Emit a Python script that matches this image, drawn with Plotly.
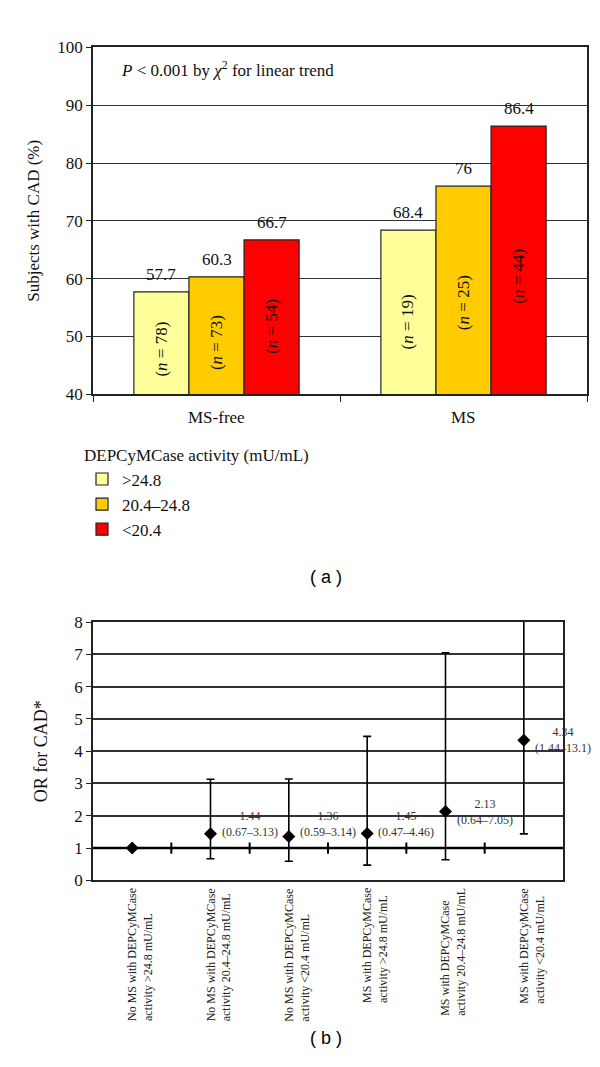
import plotly.graph_objects as go

# ---------------- data: panel (a) ----------------
groups = ["MS-free", "MS"]
activity_levels = ["&gt;24.8", "20.4–24.8", "&lt;20.4"]
pct_msfree = [57.7, 60.3, 66.7]
pct_ms = [68.4, 76, 86.4]
n_msfree = [78, 73, 54]
n_ms = [19, 25, 44]
p_text = "<i>P</i> &lt; 0.001 by <i>χ</i><sup>2</sup> for linear trend"

# ---------------- data: panel (b) ----------------
or_categories = [
    "No MS with DEPCyMCase<br>activity &gt;24.8 mU/mL",
    "No MS with DEPCyMCase<br>activity 20.4–24.8 mU/mL",
    "No MS with DEPCyMCase<br>activity &lt;20.4 mU/mL",
    "MS with DEPCyMCase<br>activity &gt;24.8 mU/mL",
    "MS with DEPCyMCase<br>activity 20.4–24.8 mU/mL",
    "MS with DEPCyMCase<br>activity &lt;20.4 mU/mL",
]
or_values = [1, 1.44, 1.36, 1.45, 2.13, 4.34]
ci_low = [None, 0.67, 0.59, 0.47, 0.64, 1.44]
ci_high = [None, 3.13, 3.14, 4.46, 7.05, 13.1]

# ---------------- styles ----------------
SERIF = "Liberation Serif, Times New Roman, DejaVu Serif, serif"
SANS = "Liberation Sans, Arial, sans-serif"
bar_colors = ["#FFFF99", "#FFCC00", "#FF0000"]
BW = 0.223  # bar width in group units

fig = go.Figure()

series_by_level = list(zip(pct_msfree, pct_ms))
n_by_level = list(zip(n_msfree, n_ms))
annotations = []

for k, lvl in enumerate(activity_levels):
    xs = [g + (k - 1) * BW for g in range(len(groups))]
    vals = list(series_by_level[k])
    fig.add_trace(go.Bar(
        x=xs, y=vals, width=BW, name=lvl,
        marker=dict(color=bar_colors[k], line=dict(color="#222222", width=1.2)),
        xaxis="x", yaxis="y", showlegend=True,
    ))
    for x, v, n in zip(xs, vals, n_by_level[k]):
        annotations.append(dict(
            x=x, y=v, xref="x", yref="y", text=str(v), showarrow=False,
            yanchor="bottom", yshift=6, font=dict(family=SERIF, size=17, color="#111")))
        annotations.append(dict(
            x=x, y=40 + 0.44 * (v - 40), xref="x", yref="y",
            text=f"(<i>n</i> = {n})", showarrow=False, textangle=-90,
            font=dict(family=SERIF, size=17, color="#111")))

for g, name in enumerate(groups):
    annotations.append(dict(
        x=g, y=40, xref="x", yref="y", text=name, showarrow=False,
        yanchor="top", yshift=-12, font=dict(family=SERIF, size=17, color="#111")))

annotations.append(dict(
    x=111 / 600, y=1 - 53 / 1067, xref="paper", yref="paper", text=p_text,
    showarrow=False, xanchor="left", yanchor="middle",
    font=dict(family=SERIF, size=17, color="#111")))

# ---------------- panel (b) ----------------
idx = list(range(len(or_values)))
plus = [None if h is None else round(h - v, 4) for h, v in zip(ci_high, or_values)]
minus = [None if l is None else round(v - l, 4) for l, v in zip(ci_low, or_values)]

fig.add_trace(go.Scatter(
    x=idx, y=or_values, mode="markers", xaxis="x2", yaxis="y2", showlegend=False,
    marker=dict(symbol="diamond", size=10, color="black"),
    error_y=dict(type="data", symmetric=False, array=plus, arrayminus=minus,
                 color="black", thickness=1.6, width=4),
))
# small tick marks on the reference line at category boundaries
fig.add_trace(go.Scatter(
    x=[i + 0.5 for i in idx[:-1]], y=[1] * (len(idx) - 1), mode="markers",
    xaxis="x2", yaxis="y2", showlegend=False, hoverinfo="skip",
    marker=dict(symbol="line-ns-open", size=8, color="black",
                line=dict(color="black", width=2)),
))

for i, (v, lo, hi) in enumerate(zip(or_values, ci_low, ci_high)):
    if lo is None:
        continue
    annotations.append(dict(
        x=i + 0.5, y=max(v, 1.75), xref="x2", yref="y2",
        text=f"{v}<br>({lo}–{hi})", showarrow=False,
        font=dict(family=SERIF, size=12, color="#333")))

for i, lab in enumerate(or_categories):
    annotations.append(dict(
        x=i, y=0, xref="x2", yref="y2", text=lab, showarrow=False,
        textangle=-90, align="left", yanchor="top", yshift=-6, xshift=8,
        font=dict(family=SERIF, size=12, color="#222")))

annotations.append(dict(x=318 / 600, y=1 - 570 / 1067, xref="paper", yref="paper",
                        text="( a )", showarrow=False,
                        font=dict(family=SANS, size=18, color="black")))
annotations.append(dict(x=318 / 600, y=1 - 1052 / 1067, xref="paper", yref="paper",
                        text="( b )", showarrow=False,
                        font=dict(family=SANS, size=18, color="black")))

fig.update_layout(
    width=600, height=1067, margin=dict(l=0, r=0, t=0, b=0),
    paper_bgcolor="white", plot_bgcolor="white",
    font=dict(family=SERIF, size=17, color="#111"),
    barmode="overlay",
    xaxis=dict(domain=[85 / 600, 579 / 600], anchor="y", range=[-0.5, 1.5],
               tickvals=[-0.5, 0.5, 1.5], ticktext=["", "", ""], ticks="outside",
               ticklen=6, tickcolor="#222", showgrid=False, zeroline=False,
               showline=True, linecolor="#222", linewidth=1.5, mirror=True),
    yaxis=dict(domain=[1 - 384 / 1067, 1 - 31 / 1067], anchor="x", range=[40, 100],
               dtick=10, ticks="outside", ticklen=5, tickcolor="#222",
               showgrid=True, gridcolor="#333", gridwidth=1.2, zeroline=False,
               showline=True, linecolor="#222", linewidth=1.5, mirror=True,
               tickfont=dict(family=SERIF, size=17),
               title=dict(text="Subjects with CAD (%)", standoff=13,
                          font=dict(family=SERIF, size=17))),
    xaxis2=dict(domain=[85 / 600, 555 / 600], anchor="y2", range=[-0.5, 5.5],
                showticklabels=False, ticks="", showgrid=False, zeroline=False,
                showline=True, linecolor="#222", linewidth=1.5, mirror=True),
    yaxis2=dict(domain=[1 - 879 / 1067, 1 - 616 / 1067], anchor="x2", range=[0, 8],
                dtick=1, ticks="outside", ticklen=5, tickcolor="#222",
                showgrid=True, gridcolor="#333", gridwidth=1.5, zeroline=False,
                showline=True, linecolor="#222", linewidth=1.5, mirror=True,
                tickfont=dict(family=SERIF, size=17),
                title=dict(text="OR for CAD*", standoff=22,
                           font=dict(family=SERIF, size=18))),
    legend=dict(x=74 / 600, y=1 - 430 / 1067, xanchor="left", yanchor="top",
                bgcolor="rgba(0,0,0,0)", font=dict(family=SERIF, size=17),
                title=dict(text="DEPCyMCase activity (mU/mL)",
                           font=dict(family=SERIF, size=17)),
                traceorder="normal"),
    shapes=[dict(type="line", xref="x2", yref="y2", x0=-0.5, x1=5.5, y0=1, y1=1,
                 line=dict(color="black", width=2.5), layer="between")],
    annotations=annotations,
)

fig.write_html("out.html")
